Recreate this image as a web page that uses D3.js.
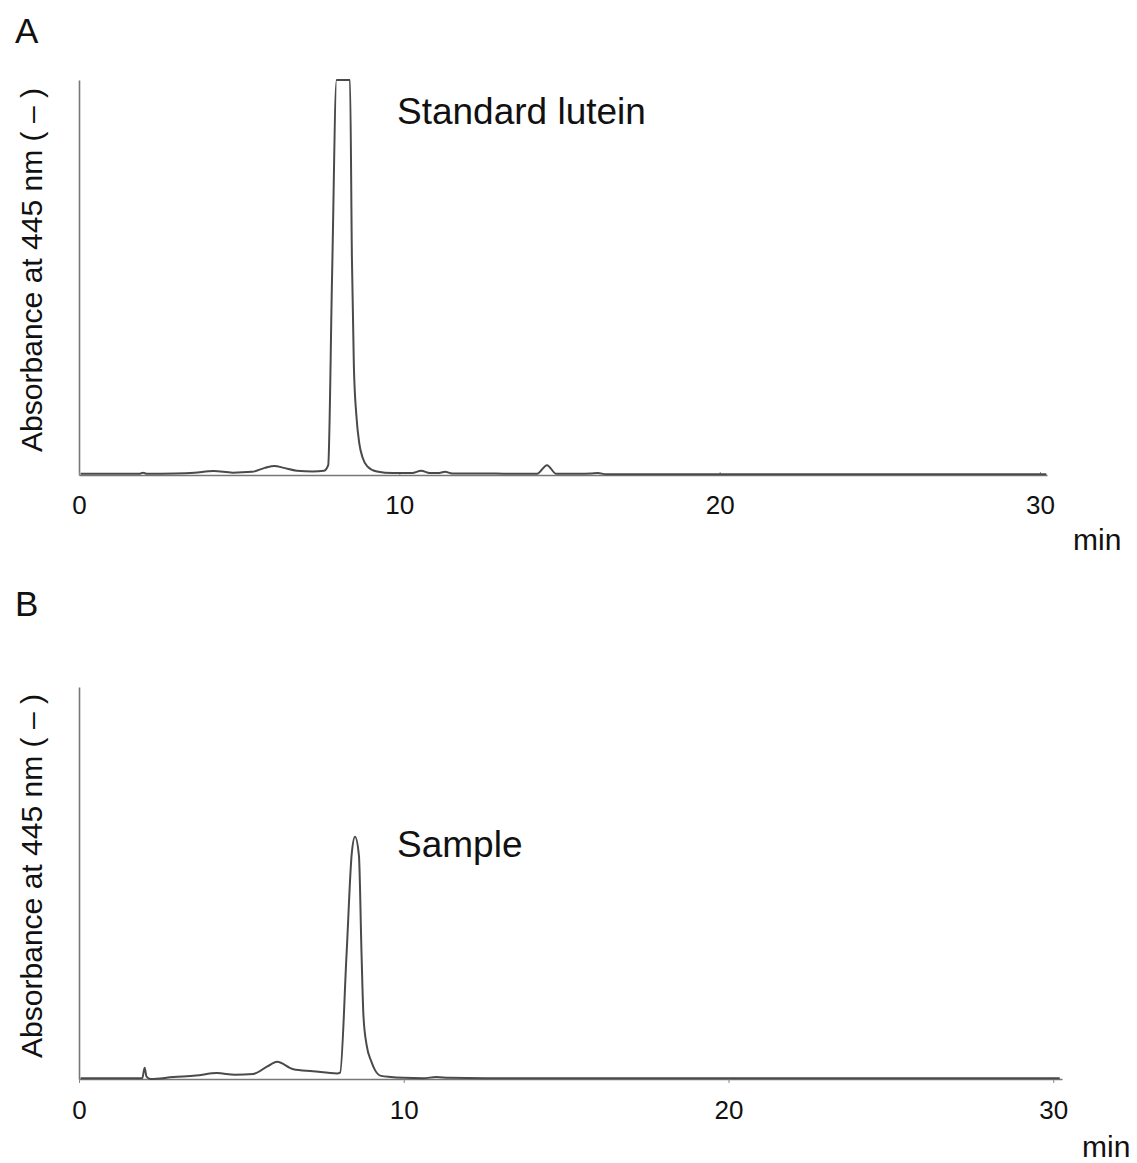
<!DOCTYPE html>
<html>
<head>
<meta charset="utf-8">
<script src="https://cdn.jsdelivr.net/npm/d3@7"></script>
<style>
  body { margin: 0; background: #fff; }
  svg text { font-family: Arial, "Liberation Sans", sans-serif; fill: #111; }
</style>
</head>
<body>
<svg id="chart" width="1137" height="1163"></svg>
<script>
// x ticks shared by both chromatograms (min)
var tickVals = [0, 10, 20, 30];

// panel A - standard lutein (time in min, absorbance in arbitrary units, 100 = top of axis)
var timeA = [0.05, 1.0, 1.9, 2.0, 2.1, 3.0, 3.6, 4.2, 4.8, 5.4, 5.8, 6.1, 6.4, 6.8, 7.3, 7.65, 7.78, 7.9, 8.04, 8.46,
             8.52, 8.58, 8.66, 8.75, 8.85, 9.0, 9.3, 9.8, 10.4, 10.68, 10.95, 11.2, 11.43, 11.65, 12.5, 13.5, 14.3,
             14.61, 14.9, 15.6, 16.0, 16.2, 16.45, 18, 22, 26, 30.2];
var absA  = [0.3, 0.3, 0.3, 0.6, 0.3, 0.4, 0.6, 1.0, 0.6, 0.8, 1.8, 2.3, 1.8, 1.1, 0.9, 1.1, 2.5, 50, 100, 100,
             55, 28, 15, 8, 4.5, 2.2, 0.9, 0.5, 0.5, 1.1, 0.5, 0.5, 0.8, 0.4, 0.4, 0.3, 0.3,
             2.5, 0.3, 0.3, 0.4, 0.5, 0.2, 0.2, 0.2, 0.2, 0.2];

// panel B - sample
var timeB = [0.05, 1.0, 1.95, 2.02, 2.08, 2.2, 2.9, 3.6, 4.25, 4.8, 5.37, 5.8, 6.1, 6.6, 7.2, 7.95, 8.04, 8.24, 8.4, 8.5,
             8.62, 8.7, 8.76, 8.86, 9.0, 9.12, 9.3, 9.6, 10.0, 10.6, 11.0, 11.4, 12.5, 15, 20, 25, 30.2];
var absB  = [0.2, 0.2, 0.2, 2.9, 0.6, 0, 0.5, 0.9, 1.5, 1.1, 1.3, 3.2, 4.4, 2.5, 2.0, 1.4, 1.6, 32, 57.6, 61.8,
             57, 32, 16, 8.5, 4.5, 2.2, 0.8, 0.5, 0.3, 0.2, 0.5, 0.3, 0.2, 0.2, 0.2, 0.2, 0.2];

var svg = d3.select("#chart");

var panels = [
  { letter: "A", name: "Standard lutein", t: timeA, v: absA,
    x0: 79, x1: 1047, xMax: 30.22, yTop: 80, yBase: 475, tick: -3, pad: 21,
    letterY: 43, nameY: 124, labelMid: 270, minX: 1073, minY: 550 },
  { letter: "B", name: "Sample", t: timeB, v: absB,
    x0: 79, x1: 1062, xMax: 30.27, yTop: 687, yBase: 1079, tick: 4, pad: 18,
    letterY: 616, nameY: 857, labelMid: 876, minX: 1082, minY: 1157 }
];

panels.forEach(function(p){
  var x = d3.scaleLinear().domain([0, p.xMax]).range([p.x0, p.x1]);
  var y = d3.scaleLinear().domain([0, 100]).range([p.yBase, p.yTop]);

  var pts = p.t.map(function(d, i){ return [d, p.v[i]]; });

  // y axis: plain line
  svg.append("g")
    .attr("transform", "translate(" + p.x0 + ",0)")
    .call(d3.axisLeft(y).tickValues([]).tickSizeOuter(0))
    .select(".domain").attr("stroke", "#777").attr("stroke-width", 1.6);

  // x axis
  var gx = svg.append("g")
    .attr("transform", "translate(0," + p.yBase + ")")
    .call(d3.axisBottom(x).tickValues(tickVals).tickSizeInner(p.tick).tickSizeOuter(0).tickPadding(p.pad));
  gx.select(".domain").attr("stroke", "#777").attr("stroke-width", 1.6);
  gx.selectAll(".tick line").attr("stroke", "#888");
  gx.selectAll(".tick text")
    .style("font-size", "26px")
    .attr("fill", "#111");

  // trace
  var line = d3.line()
    .x(function(d){ return x(d[0]); })
    .y(function(d){ return y(d[1]); })
    .curve(d3.curveMonotoneX);

  svg.append("path")
    .datum(pts)
    .attr("d", line)
    .attr("fill", "none")
    .attr("stroke", "#4a4a4a")
    .attr("stroke-width", 2)
    .attr("stroke-linejoin", "round");

  // labels
  svg.append("text").attr("x", 15).attr("y", p.letterY)
    .style("font-size", "35px").text(p.letter);

  svg.append("text").attr("x", 397).attr("y", p.nameY)
    .style("font-size", "37px").text(p.name);

  svg.append("text")
    .attr("transform", "translate(42," + p.labelMid + ") rotate(-90)")
    .attr("text-anchor", "middle")
    .attr("textLength", 364)
    .attr("lengthAdjust", "spacingAndGlyphs")
    .style("font-size", "29px")
    .attr("fill", "#222")
    .text("Absorbance at 445 nm ( \u2013 )");

  svg.append("text").attr("x", p.minX).attr("y", p.minY)
    .style("font-size", "30px")
    .text("min");
});
</script>
</body>
</html>
